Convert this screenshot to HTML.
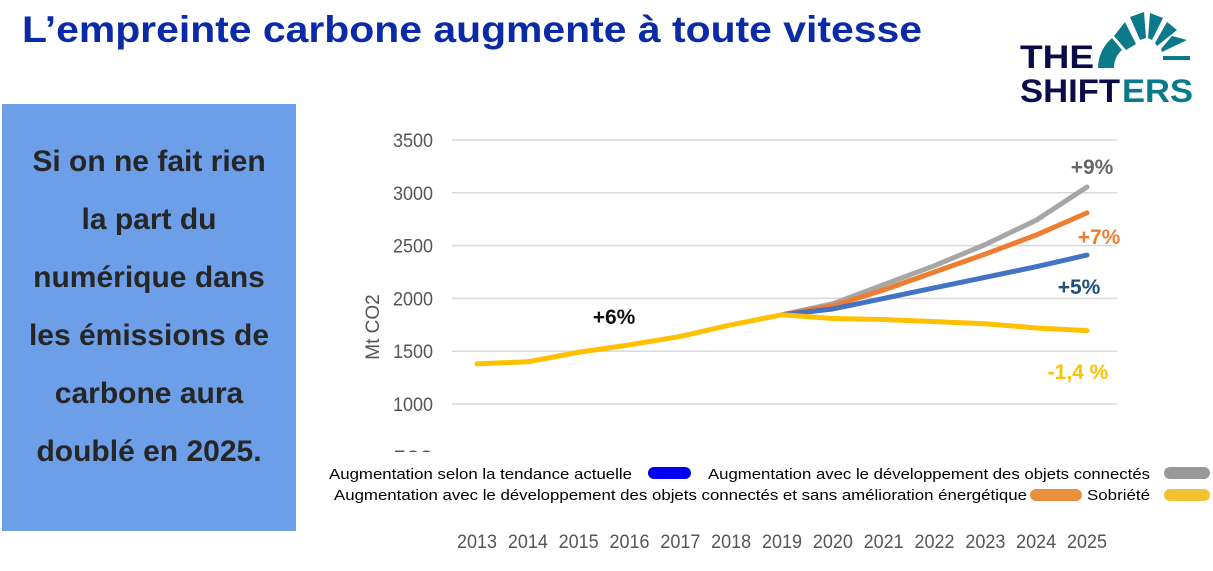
<!DOCTYPE html>
<html><head><meta charset="utf-8">
<style>
html,body{margin:0;padding:0;background:#fff;}
body{width:1213px;height:571px;position:relative;overflow:hidden;font-family:"Liberation Sans",sans-serif;}
svg{position:absolute;left:0;top:0;}
</style></head>
<body>
<svg width="1213" height="571" viewBox="0 0 1213 571">
  <text x="22" y="42" font-size="37" font-weight="bold" fill="#0a2aa8" textLength="900" lengthAdjust="spacingAndGlyphs">L’empreinte carbone augmente à toute vitesse</text>

  <g>
    <g fill="#0a7a8a">
      <path d="M1098,68 A40,40 0 0 1 1112,38 L1122,50 A24,24 0 0 0 1114,68 Z"/>
      <polygon points="1114,36 1125,22 1136,44 1126,50"/>
      <polygon points="1130,17 1144,12 1146,38 1140,40"/>
      <polygon points="1150,13 1163,18 1152,40 1148,38"/>
      <polygon points="1167,22 1177,30 1157,46 1155,43"/>
      <polygon points="1172,36 1187,40 1162,52 1161,49"/>
      <polygon points="1163,56 1190,56 1190,60 1163,60"/>
    </g>
    <text x="1020" y="68" font-size="32" font-weight="bold" fill="#0b0b4a" textLength="74" lengthAdjust="spacingAndGlyphs">THE</text>
    <text x="1020" y="102" font-size="32" font-weight="bold" fill="#0b0b4a" textLength="100" lengthAdjust="spacingAndGlyphs">SHIFT</text>
    <text x="1122" y="102" font-size="32" font-weight="bold" fill="#0a7a8a" textLength="71" lengthAdjust="spacingAndGlyphs">ERS</text>
  </g>

  <rect x="2" y="104" width="294" height="427" fill="#6d9ee8"/>
  <g font-size="30" font-weight="bold" fill="#262626" text-anchor="middle">
    <text x="149" y="171">Si on ne fait rien</text>
    <text x="149" y="229">la part du</text>
    <text x="149" y="287">numérique dans</text>
    <text x="149" y="345">les émissions de</text>
    <text x="149" y="403">carbone aura</text>
    <text x="149" y="461">doublé en 2025.</text>
  </g>

  <g id="grid"></g>
  <g id="yticks" font-size="19" fill="#555" text-anchor="end"></g>
  <text transform="translate(379,327) rotate(-90)" font-size="19" fill="#555" text-anchor="middle">Mt CO2</text>
  <g id="series"></g>
  <rect x="320" y="452" width="890" height="60" fill="#fff"/>
  <g id="xticks" font-size="19" fill="#555" text-anchor="middle"></g>

  <g font-size="21" font-weight="bold" text-anchor="middle">
    <text x="1092" y="174" fill="#666">+9%</text>
    <text x="1099" y="244" fill="#ed7d31">+7%</text>
    <text x="1079" y="294" fill="#1f4e79">+5%</text>
    <text x="1078" y="379" fill="#ffc000">-1,4 %</text>
    <text x="614" y="324" fill="#111">+6%</text>
  </g>

  <g font-size="15" fill="#000">
    <g>
      <text x="329" y="479" textLength="303" lengthAdjust="spacingAndGlyphs">Augmentation selon la tendance actuelle</text>
      <rect x="648" y="467" width="43" height="12" rx="6" fill="#0000ee"/>
    </g>
    <g>
      <text x="708" y="479" textLength="442" lengthAdjust="spacingAndGlyphs">Augmentation avec le développement des objets connectés</text>
      <rect x="1164" y="467" width="46" height="12" rx="6" fill="#999"/>
    </g>
    <g>
      <text x="334" y="500" textLength="693" lengthAdjust="spacingAndGlyphs">Augmentation avec le développement des objets connectés et sans amélioration énergétique</text>
      <rect x="1030" y="489" width="52" height="12" rx="6" fill="#e8913a"/>
    </g>
    <g>
      <text x="1087" y="500" textLength="63" lengthAdjust="spacingAndGlyphs">Sobriété</text>
      <rect x="1164" y="489" width="46" height="12" rx="6" fill="#f2c230"/>
    </g>
  </g>
</svg>
<script>
const years = [2013,2014,2015,2016,2017,2018,2019,2020,2021,2022,2023,2024,2025];
const yTicks = [500,1000,1500,2000,2500,3000,3500];
const historic = [1380,1400,1490,1560,1640,1750,1845];
const grayVals = [1950,2130,2310,2510,2740,3055];
const orangeVals = [1930,2080,2250,2420,2600,2810];
const blueVals = [1900,2000,2100,2200,2300,2410];
const yellowVals = [1810,1800,1780,1760,1720,1695];

const NS = "http://www.w3.org/2000/svg";
const xS = i => 477 + i * (1087 - 477) / 12;
const yS = v => 140 + (3500 - v) * (404 - 140) / 2500;

const grid = document.getElementById('grid');
const yt = document.getElementById('yticks');
yTicks.forEach(v => {
  const l = document.createElementNS(NS,'line');
  
  
  l.setAttribute('x1',452); l.setAttribute('x2',1117);
  l.setAttribute('y1',yS(v)); l.setAttribute('y2',yS(v));
  l.setAttribute('stroke','#d9d9d9'); l.setAttribute('stroke-width','1.5');
  grid.appendChild(l);
  const t = document.createElementNS(NS,'text');
  
  
  t.setAttribute('x',433); t.setAttribute('y',yS(v)+7);
  t.setAttribute('textLength',40);
  t.setAttribute('lengthAdjust','spacingAndGlyphs');
  t.textContent = v;
  yt.appendChild(t);
});
const xt = document.getElementById('xticks');
years.forEach((y,i) => {
  const t = document.createElementNS(NS,'text');
  
  
  t.setAttribute('x',xS(i)); t.setAttribute('y',548);
  t.setAttribute('textLength',40);
  t.setAttribute('lengthAdjust','spacingAndGlyphs');
  t.textContent = y;
  xt.appendChild(t);
});
const series = document.getElementById('series');
function addLine(pts, color, name){
  const p = document.createElementNS(NS,'polyline');
  
  
  p.setAttribute('points',pts);
  p.setAttribute('fill','none'); p.setAttribute('stroke',color);
  p.setAttribute('stroke-width','5'); p.setAttribute('stroke-linejoin','round'); p.setAttribute('stroke-linecap','round');
  series.appendChild(p);
}
const last = historic[historic.length-1];
function drawFuture(vals,color,name){
  const pts = [last].concat(vals).map((v,i)=>xS(i+6)+','+yS(v)).join(' ');
  addLine(pts,color,name);
}
drawFuture(grayVals,'#a6a6a6','line-objets-connectes');
drawFuture(orangeVals,'#ed7d31','line-sans-amelioration');
drawFuture(blueVals,'#4472c4','line-tendance');
drawFuture(yellowVals,'#ffc000','line-sobriete');
addLine(historic.map((v,i)=>xS(i)+','+yS(v)).join(' '),'#ffc000','line-historique');
</script>
</body></html>
